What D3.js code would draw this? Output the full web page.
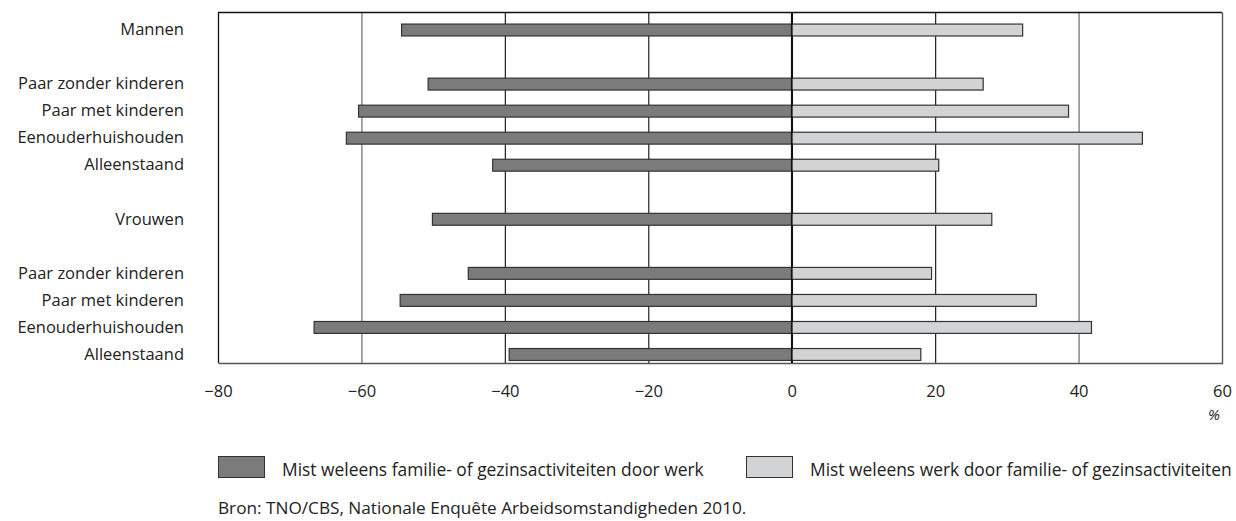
<!DOCTYPE html>
<html>
<head>
<meta charset="utf-8">
<script src="https://cdn.jsdelivr.net/npm/d3@7"></script>
<style>
  html, body { margin: 0; padding: 0; background: #fff; }
  svg { display: block; font-family: "Open Sans", "Noto Sans", sans-serif; }
</style>
</head>
<body>
<svg id="chart" width="1236" height="521"></svg>
<script>
// Rows (blank strings are spacer rows)
const categories = [
  "Mannen", "", "Paar zonder kinderen", "Paar met kinderen", "Eenouderhuishouden", "Alleenstaand",
  "", "Vrouwen", "", "Paar zonder kinderen", "Paar met kinderen", "Eenouderhuishouden", "Alleenstaand"
];
// Mist weleens familie- of gezinsactiviteiten door werk (negative side)
const seriesWorkFamily = [-54.4, null, -50.7, -60.4, -62.1, -41.7, null, -50.1, null, -45.1, -54.6, -66.6, -39.4];
// Mist weleens werk door familie- of gezinsactiviteiten (positive side)
const seriesFamilyWork = [32.2, null, 26.7, 38.6, 48.9, 20.5, null, 27.9, null, 19.5, 34.1, 41.8, 18.0];
const xTicks = [-80, -60, -40, -20, 0, 20, 40, 60];
const legendLabels = [
  "Mist weleens familie- of gezinsactiviteiten door werk",
  "Mist weleens werk door familie- of gezinsactiviteiten"
];
const sourceText = "Bron: TNO/CBS, Nationale Enquête Arbeidsomstandigheden 2010.";

const colors = ["#7b7b7b", "#d2d3d5"];

const svg = d3.select("#chart");
const m = { left: 218, right: 1222, top: 12, bottom: 363 };

const x = d3.scaleLinear().domain([-80, 60]).range([m.left, m.right]);
const rows = categories.map((c, i) => ({ key: "r" + i, label: c, a: seriesWorkFamily[i], b: seriesFamilyWork[i] }));
const y = d3.scaleBand().domain(rows.map(r => r.key)).range([16.5, 368]).paddingInner(0.56).paddingOuter(0.28);

// gridlines
svg.append("g").selectAll("line").data(xTicks.filter(t => t > -80 && t < 60)).join("line")
  .attr("x1", d => x(d) + 0.5).attr("x2", d => x(d) + 0.5)
  .attr("y1", m.top).attr("y2", m.bottom)
  .attr("stroke", d => d === 0 ? "#111" : (d === -60 || d === 40 ? "#6a6a6a" : "#222"))
  .attr("stroke-width", d => d === 0 ? 1.6 : 1.2);

// bars
const barsG = svg.append("g");
rows.forEach(r => {
  if (r.a != null) {
    barsG.append("rect")
      .attr("x", x(r.a)).attr("y", y(r.key))
      .attr("width", x(0) - x(r.a)).attr("height", y.bandwidth())
      .attr("fill", colors[0]).attr("stroke", "#333").attr("stroke-width", 1.2);
  }
  if (r.b != null) {
    barsG.append("rect")
      .attr("x", x(0)).attr("y", y(r.key))
      .attr("width", x(r.b) - x(0)).attr("height", y.bandwidth())
      .attr("fill", colors[1]).attr("stroke", "#333").attr("stroke-width", 1.2);
  }
});

// zero line on top
svg.append("line").attr("x1", x(0)).attr("x2", x(0)).attr("y1", m.top).attr("y2", m.bottom)
  .attr("stroke", "#111").attr("stroke-width", 1.6);

// frame
svg.append("path")
  .attr("d", `M${m.left + 0.5},${m.bottom} V${m.top + 0.5} H${m.right}`)
  .attr("fill", "none").attr("stroke", "#111").attr("stroke-width", 1.3);
svg.append("path")
  .attr("d", `M${m.left + 0.5},${m.bottom + 0.5} H${m.right + 0.5} V${m.top + 0.5}`)
  .attr("fill", "none").attr("stroke", "#555").attr("stroke-width", 1.4);

// x axis
const xAxis = d3.axisBottom(x).tickValues(xTicks).tickSize(0).tickPadding(0)
  .tickFormat(d => d < 0 ? "\u2212" + Math.abs(d) : d);
const gx = svg.append("g").attr("transform", `translate(0,${m.bottom + 22})`).call(xAxis);
gx.select(".domain").remove();
gx.selectAll("text").attr("font-size", 16.5).attr("fill", "#222")
  .attr("font-family", "Open Sans, sans-serif").attr("dy", "0.71em");

svg.append("text").attr("x", 1214).attr("y", 420).attr("text-anchor", "middle")
  .attr("font-size", 15).attr("font-style", "italic").attr("fill", "#222").text("%");

// y labels
const yAxis = d3.axisLeft(y).tickSize(0).tickPadding(0).tickFormat(k => rows.find(r => r.key === k).label);
const gy = svg.append("g").attr("transform", `translate(184,0)`).call(yAxis);
gy.select(".domain").remove();
gy.selectAll("text").attr("font-size", 16.5).attr("fill", "#222").attr("font-family", "Open Sans, sans-serif");

// legend
const legX = [218, 746];
legendLabels.forEach((t, i) => {
  svg.append("rect").attr("x", legX[i] + 0.5).attr("y", 456.5).attr("width", 46).attr("height", 21)
    .attr("fill", colors[i]).attr("stroke", "#333").attr("stroke-width", 1);
  svg.append("text").attr("x", legX[i] + 64).attr("y", 476)
    .attr("font-size", 17.4).attr("fill", "#222").text(t);
});

svg.append("text").attr("x", 218).attr("y", 514).attr("font-size", 17.2).attr("fill", "#222").text(sourceText);
</script>
</body>
</html>
